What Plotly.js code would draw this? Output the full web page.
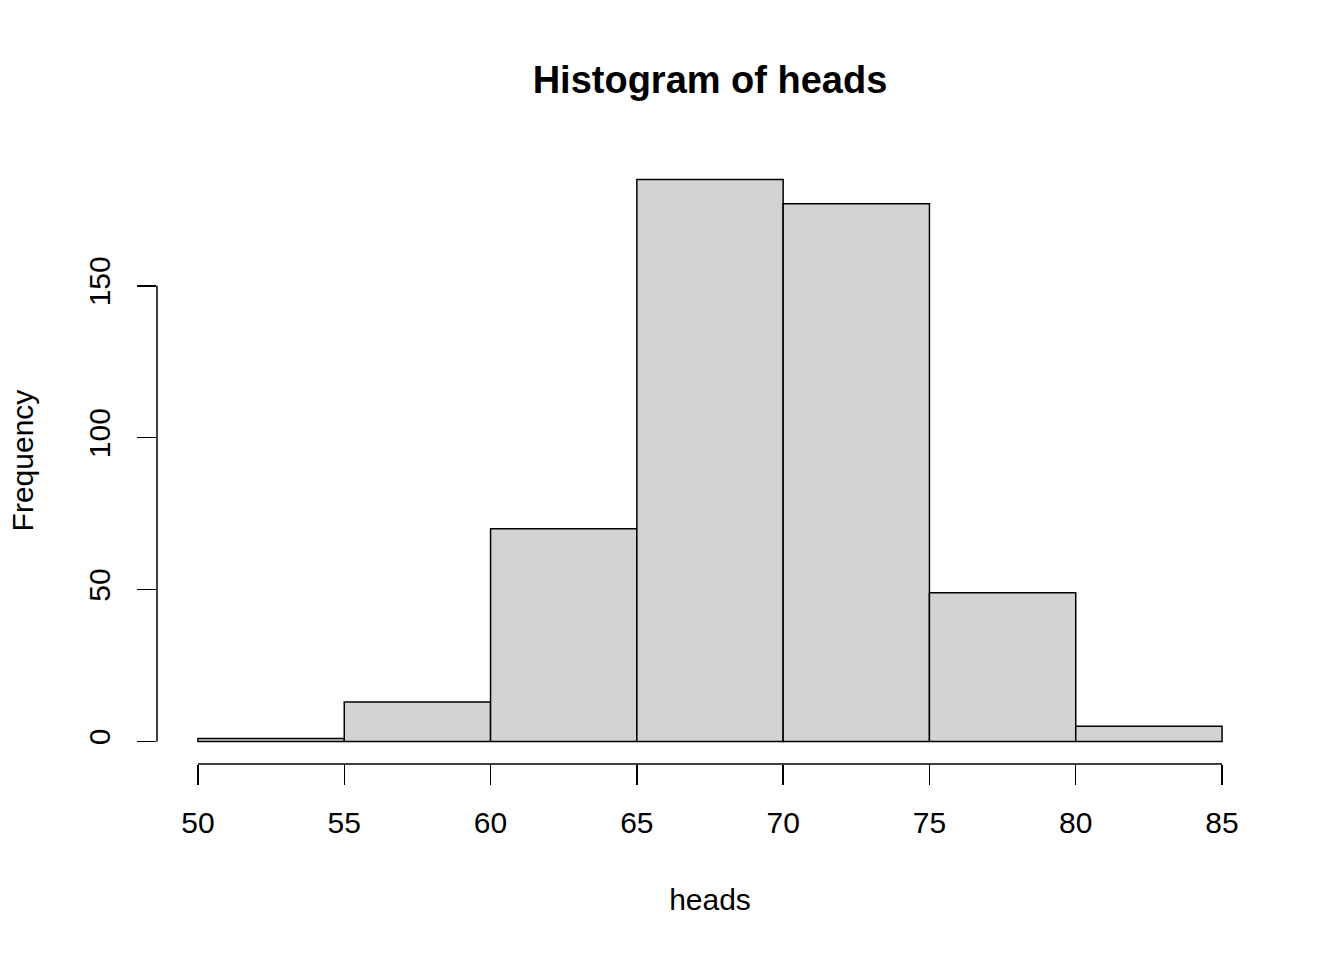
<!DOCTYPE html>
<html>
<head>
<meta charset="utf-8">
<script src="https://cdn.plot.ly/plotly-3.0.1.min.js"></script>
<style>html,body{margin:0;padding:0;background:#fff;}#chart{width:1344px;height:960px;}</style>
</head>
<body>
<div id="chart"></div>
<script>
const binEdges = [50, 55, 60, 65, 70, 75, 80, 85];
const counts = [1, 13, 70, 185, 177, 49, 5];
const xTicks = [50, 55, 60, 65, 70, 75, 80, 85];
const yTicks = [0, 50, 100, 150];
const chartTitle = "Histogram of heads";
const xLabel = "heads";
const yLabel = "Frequency";

const mids = counts.map((c, i) => (binEdges[i] + binEdges[i + 1]) / 2);
const widths = counts.map((c, i) => binEdges[i + 1] - binEdges[i]);

const xMin = binEdges[0], xMax = binEdges[binEdges.length - 1];
const yMax = Math.max(...counts);
const xPad = 0.04 * (xMax - xMin), yPad = 0.04 * yMax;

const font = "Liberation Sans, Arial, sans-serif";

const trace = {
  type: "bar",
  x: mids,
  y: counts,
  width: widths,
  marker: { color: "#D3D3D3", line: { color: "#000", width: 1.5 } },
  hoverinfo: "skip"
};

const layout = {
  width: 1344, height: 960,
  margin: { l: 157, r: 81, t: 157, b: 196 },
  paper_bgcolor: "#fff", plot_bgcolor: "#fff",
  showlegend: false,
  bargap: 0,
  font: { family: font, color: "#000", size: 30 },
  title: {
    text: "<b>" + chartTitle + "</b>",
    font: { family: font, size: 38, color: "#000" },
    x: (157 + (1344 - 81)) / 2 / 1344, xanchor: "center",
    y: 1 - 80 / 960, yanchor: "middle", yref: "container"
  },
  xaxis: {
    range: [xMin - xPad, xMax + xPad],
    tickvals: xTicks, ticktext: xTicks.map(String),
    ticks: "outside", ticklen: 20, tickwidth: 1.5, tickcolor: "#000",
    ticklabelstandoff: 12,
    showline: false, showgrid: false, zeroline: false,
    tickfont: { family: font, size: 30, color: "#000" },
    title: { text: xLabel, font: { family: font, size: 30, color: "#000" }, standoff: 50 }
  },
  yaxis: {
    range: [-yPad, yMax + yPad],
    tickvals: yTicks, ticktext: yTicks.map(String),
    ticks: "outside", ticklen: 19, tickwidth: 1.5, tickcolor: "#000",
    ticklabelstandoff: 15,
    tickangle: -90,
    showline: false, showgrid: false, zeroline: false,
    tickfont: { family: font, size: 30, color: "#000" },
    title: { text: yLabel, font: { family: font, size: 30, color: "#000" }, standoff: 40 }
  },
  shapes: [
    { type: "line", xref: "x", yref: "paper", x0: xTicks[0], x1: xTicks[xTicks.length - 1], y0: 0, y1: 0,
      line: { color: "#000", width: 1.5 } },
    { type: "line", xref: "paper", yref: "y", x0: 0, x1: 0, y0: yTicks[0], y1: yTicks[yTicks.length - 1],
      line: { color: "#000", width: 1.5 } }
  ]
};

Plotly.newPlot("chart", [trace], layout, { staticPlot: true, displayModeBar: false });
</script>
</body>
</html>
